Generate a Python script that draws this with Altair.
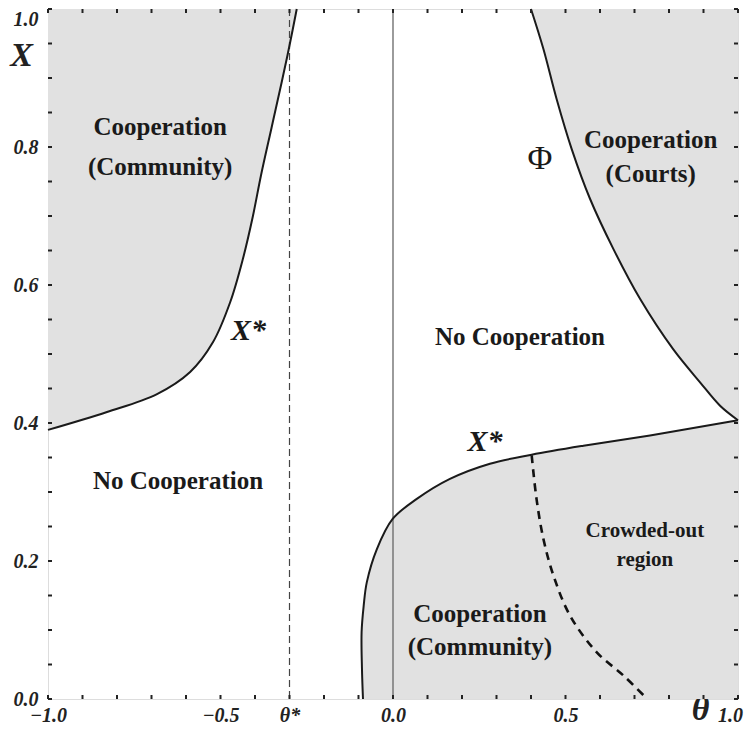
import altair as alt
import pandas as pd

# ---------------- data ----------------
# upper-left X* boundary (theta, X)
ul_theta = [-1.0, -0.829, -0.684, -0.588, -0.522, -0.472, -0.435, -0.406, -0.383, -0.352, -0.323, -0.300, -0.279]
ul_x = [0.390, 0.416, 0.442, 0.474, 0.517, 0.575, 0.638, 0.700, 0.758, 0.828, 0.893, 0.947, 1.000]

# Phi boundary (upper right)
phi_theta = [0.400, 0.436, 0.474, 0.518, 0.571, 0.639, 0.716, 0.812, 0.890, 0.948, 1.0]
phi_x = [1.000, 0.942, 0.870, 0.797, 0.725, 0.652, 0.580, 0.507, 0.459, 0.425, 0.404]

# lower X* boundary
lo_theta = [-0.087, -0.090, -0.091, -0.085, -0.076, -0.047, -0.001, 0.069, 0.165, 0.281, 0.402, 0.552, 0.745, 1.0]
lo_x = [0.000, 0.045, 0.097, 0.135, 0.169, 0.217, 0.261, 0.290, 0.319, 0.341, 0.354, 0.367, 0.382, 0.404]

# crowded-out dashed boundary
cr_theta = [0.402, 0.416, 0.436, 0.465, 0.513, 0.590, 0.668, 0.737]
cr_x = [0.353, 0.290, 0.232, 0.179, 0.121, 0.068, 0.034, 0.000]

theta_star = -0.3
x_tick_values = [-1.0, -0.5, -0.3, 0.0, 0.5, 1.0]
y_tick_values = [0.0, 0.2, 0.4, 0.6, 0.8, 1.0]
minor_x = [round(-1.0 + 0.1 * i, 2) for i in range(21)]
minor_y = [round(0.05 * i, 2) for i in range(21)]

region_text = ["Cooperation", "(Community)", "Cooperation", "(Courts)",
               "No Cooperation", "No Cooperation", "Cooperation", "(Community)"]
region_theta = [-0.675, -0.675, 0.747, 0.747, 0.368, -0.623, 0.252, 0.252]
region_x = [0.829, 0.771, 0.810, 0.761, 0.525, 0.316, 0.123, 0.075]

small_text = ["Crowded-out", "region"]
small_theta = [0.730, 0.730]
small_x = [0.244, 0.201]

xstar_theta = [-0.419, 0.267]
xstar_x = [0.534, 0.372]

phi_label = ["Φ"]
phi_label_theta = [0.426]
phi_label_x = [0.783]

# ---------------- frames ----------------
def curve(t, v):
    return pd.DataFrame({"theta": t, "X": v, "i": list(range(len(t)))})

ul = curve(ul_theta, ul_x)
phi = curve(phi_theta, phi_x)
lo = curve(lo_theta, lo_x)
cr = curve(cr_theta, cr_x)

W = 690
H = 690
FILL = "#e1e1e1"
SERIF = "Liberation Serif"
INTERP = "catmull-rom"

xs = alt.Scale(domain=[-1, 1], nice=False, zero=False)
ys = alt.Scale(domain=[0, 1], nice=False, zero=False)

x_axis = alt.Axis(
    values=x_tick_values,
    labelExpr="abs(datum.value + 0.3) < 1e-6 ? 'θ*' : format(datum.value, '.1f')",
    ticks=False, domain=False, grid=False,
    labelFont=SERIF, labelFontWeight="bold", labelFontStyle="italic",
    labelFontSize=20, labelColor="#222", labelPadding=6,
    labelOffset={"condition": {"test": "datum.value == 1", "value": -8}, "value": 0},
    labelFlush=False, labelOverlap=False, labelBound=False,
    title="θ", titleFont=SERIF, titleFontStyle="italic", titleFontWeight="bold",
    titleFontSize=34, titleColor="#222", titleX=652, titleY=10,
    titleAlign="center", titleBaseline="middle", titleAngle=0,
)
y_axis = alt.Axis(
    values=y_tick_values, format=".1f",
    ticks=False, domain=False, grid=False,
    labelFont=SERIF, labelFontWeight="bold", labelFontStyle="italic",
    labelFontSize=20, labelColor="#222", labelPadding=10,
    labelOffset={"condition": {"test": "datum.value == 1", "value": 10}, "value": 0},
    labelFlush=False, labelOverlap=False, labelBound=False,
    title="X", titleFont=SERIF, titleFontStyle="italic", titleFontWeight="bold",
    titleFontSize=34, titleColor="#222", titleX=-27, titleY=46,
    titleAlign="center", titleBaseline="middle", titleAngle=0,
)

base_x = alt.X("theta:Q", scale=xs, axis=x_axis)
base_y = alt.Y("X:Q", scale=ys, axis=y_axis)

area_ul = alt.Chart(ul).mark_area(color=FILL, opacity=1, interpolate=INTERP).encode(
    x=base_x, y=base_y, y2=alt.datum(1))
area_phi = alt.Chart(phi).mark_area(color=FILL, opacity=1, interpolate=INTERP).encode(
    x=alt.X("theta:Q", scale=xs), y=alt.Y("X:Q", scale=ys), y2=alt.datum(1))
area_lo = alt.Chart(lo).mark_area(color=FILL, opacity=1, orient="horizontal",
                                  interpolate=INTERP).encode(
    y=alt.Y("X:Q", scale=ys), x=alt.X("theta:Q", scale=xs), x2=alt.datum(1))

vline_df = pd.DataFrame({"theta": [theta_star]})
vstar = alt.Chart(vline_df).mark_rule(color="#444", strokeWidth=1.2, strokeDash=[7, 4]).encode(
    x=alt.X("theta:Q", scale=xs), y=alt.value(0), y2=alt.value(H))
zero_df = pd.DataFrame({"theta": [0.0]})
vzero = alt.Chart(zero_df).mark_rule(color="#666", strokeWidth=1.3).encode(
    x=alt.X("theta:Q", scale=xs), y=alt.value(0), y2=alt.value(H))

def line(df, **kw):
    return alt.Chart(df).mark_line(interpolate=INTERP, **kw).encode(
        x=alt.X("theta:Q", scale=xs), y=alt.Y("X:Q", scale=ys), order="i:Q")

l_ul = line(ul, color="#1a1a1a", strokeWidth=2)
l_phi = line(phi, color="#1a1a1a", strokeWidth=2)
l_lo = line(lo, color="#1a1a1a", strokeWidth=2)
l_cr = line(cr, color="#111", strokeWidth=2.6, strokeDash=[8, 6])

mx = pd.DataFrame({"t": minor_x})
my = pd.DataFrame({"t": minor_y})
tick_style = dict(color="#222", strokeWidth=2)
t_bottom = alt.Chart(mx).mark_rule(**tick_style).encode(
    x=alt.X("t:Q", scale=xs), y=alt.value(H), y2=alt.value(H - 4))
t_top = alt.Chart(mx).mark_rule(**tick_style).encode(
    x=alt.X("t:Q", scale=xs), y=alt.value(0), y2=alt.value(4))
t_left = alt.Chart(my).mark_rule(**tick_style).encode(
    y=alt.Y("t:Q", scale=ys), x=alt.value(0), x2=alt.value(4))
t_right = alt.Chart(my).mark_rule(**tick_style).encode(
    y=alt.Y("t:Q", scale=ys), x=alt.value(W), x2=alt.value(W - 4))

def texts(t, th, v, **kw):
    df = pd.DataFrame({"label": t, "theta": th, "X": v})
    return alt.Chart(df).mark_text(font=SERIF, color="#1a1a1a", align="center",
                                   baseline="middle", **kw).encode(
        x=alt.X("theta:Q", scale=xs), y=alt.Y("X:Q", scale=ys), text="label:N")

txt_region = texts(region_text, region_theta, region_x, fontSize=25, fontWeight="bold")
txt_small = texts(small_text, small_theta, small_x, fontSize=21, fontWeight="bold")
txt_xstar = texts(["X*", "X*"], xstar_theta, xstar_x, fontSize=30, fontWeight="bold", fontStyle="italic")
txt_phi = texts(phi_label, phi_label_theta, phi_label_x, fontSize=34)

chart = alt.layer(
    area_ul, area_phi, area_lo, vstar, vzero,
    l_ul, l_phi, l_lo, l_cr,
    t_bottom, t_top, t_left, t_right,
    txt_region, txt_small, txt_xstar, txt_phi,
).properties(
    width=W, height=H,
    autosize=alt.AutoSizeParams(type="none"),
    padding={"left": 40, "top": 1, "right": 10, "bottom": 28},
).configure_view(
    stroke="#2a2a2a", strokeWidth=2.5
).configure(background="white")

chart.save("out.html", embed_options={"renderer": "svg", "actions": False})
